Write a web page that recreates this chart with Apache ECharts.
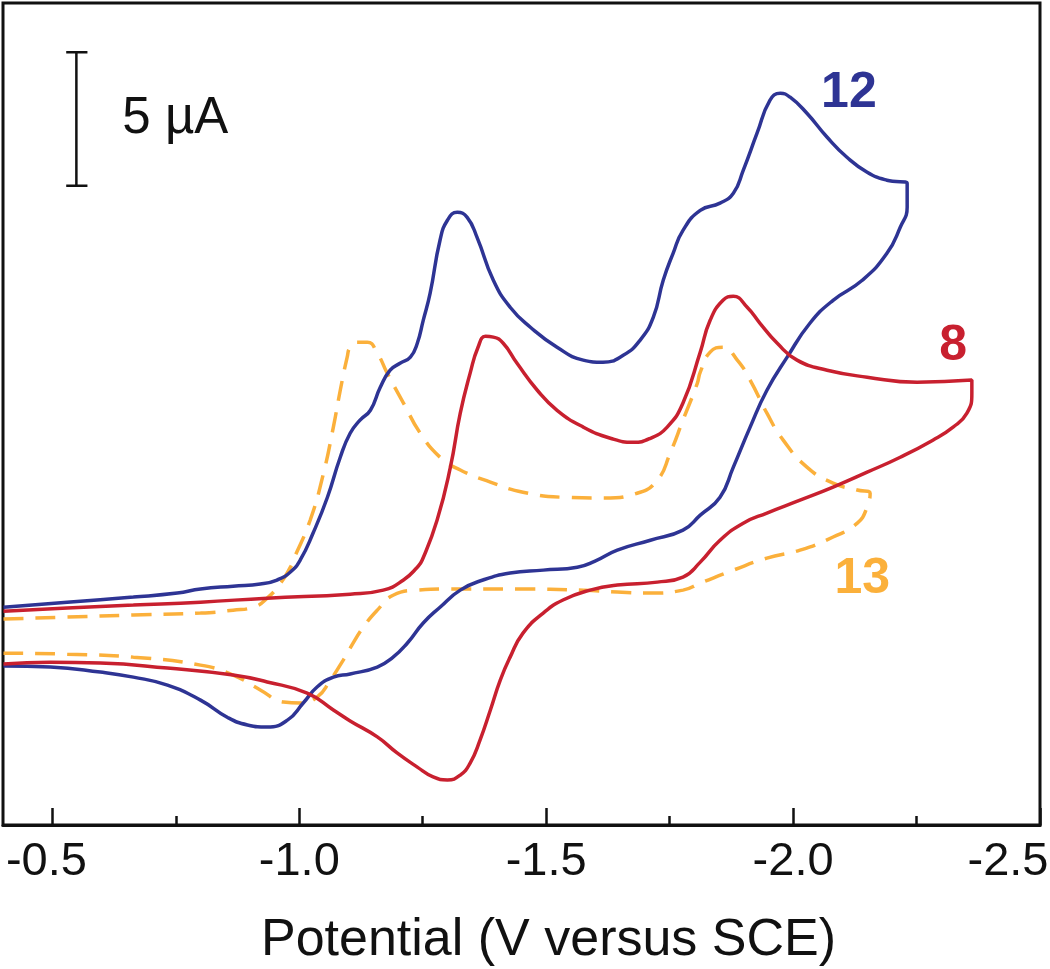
<!DOCTYPE html>
<html>
<head>
<meta charset="utf-8">
<script src="https://cdn.jsdelivr.net/npm/echarts@6/dist/echarts.min.js"></script>
<style>
html,body{margin:0;padding:0;background:#fff;}
#chart{width:1050px;height:969px;}
</style>
</head>
<body>
<div id="chart"></div>
<script>
// ---- Data (potential in V vs SCE, current in µA with arbitrary offset) ----
const majorTicks = [-2.5, -2.0, -1.5, -1.0, -0.5];
const minorTicks = [-2.25, -1.75, -1.25, -0.75];
const axisTitle = 'Potential (V versus SCE)';

const curve12 = [
  [-0.401,8.16],[-0.530,8.35],[-0.664,8.54],[-0.753,8.69],[-0.800,8.84],[-0.866,8.95],[-0.921,9.03],
  [-0.955,9.18],[-0.982,9.48],[-1.002,9.93],[-1.028,10.94],[-1.057,12.28],[-1.083,13.78],[-1.103,14.68],
  [-1.123,15.17],[-1.144,15.54],[-1.164,16.40],[-1.184,17.04],[-1.204,17.30],[-1.225,17.53],[-1.239,18.05],
  [-1.251,18.91],[-1.265,19.93],[-1.285,21.91],[-1.300,22.66],[-1.320,22.96],[-1.340,22.77],[-1.360,22.02],
  [-1.393,20.41],[-1.427,19.40],[-1.468,18.65],[-1.522,17.90],[-1.575,17.42],[-1.615,17.34],[-1.656,17.60],
  [-1.690,18.16],[-1.717,19.03],[-1.737,20.41],[-1.757,21.42],[-1.777,22.28],[-1.812,23.03],[-1.852,23.30],
  [-1.879,23.67],[-1.899,24.53],[-1.927,25.92],[-1.953,27.15],[-1.974,27.42],[-1.994,27.27],[-2.028,26.67],
  [-2.069,25.77],[-2.109,25.02],[-2.150,24.46],[-2.190,24.16],[-2.231,24.04],
  [-2.231,23.15],[-2.217,22.40],[-2.190,21.42],[-2.140,20.41],[-2.081,19.66],[-2.034,18.80],[-1.988,17.53],
  [-1.947,16.29],[-1.913,14.91],[-1.879,13.41],[-1.852,12.28],[-1.812,11.61],[-1.777,11.05],[-1.711,10.67],
  [-1.644,10.30],[-1.599,9.89],[-1.563,9.66],[-1.494,9.55],[-1.427,9.44],[-1.372,9.18],[-1.326,8.80],
  [-1.285,8.16],[-1.251,7.57],[-1.219,6.82],[-1.190,6.29],[-1.158,5.92],[-1.103,5.66],[-1.069,5.54],
  [-1.036,5.17],[-1.008,4.57],[-0.976,3.93],[-0.935,3.67],[-0.895,3.75],[-0.854,4.04],[-0.800,4.68],
  [-0.733,5.24],[-0.664,5.54],[-0.597,5.73],[-0.496,5.92],[-0.401,5.96]
];

const curve8 = [
  [-0.401,8.01],[-0.530,8.13],[-0.664,8.24],[-0.800,8.35],[-0.935,8.50],[-1.103,8.65],[-1.170,8.80],
  [-1.211,9.18],[-1.239,9.66],[-1.249,9.93],[-1.279,11.42],[-1.306,13.41],[-1.326,15.43],[-1.346,16.93],
  [-1.362,17.90],[-1.377,18.31],[-1.393,18.28],[-1.413,18.05],[-1.441,17.30],[-1.482,16.29],[-1.522,15.54],
  [-1.575,14.91],[-1.630,14.49],[-1.676,14.34],[-1.711,14.49],[-1.745,14.91],[-1.777,15.81],[-1.812,17.72],
  [-1.832,18.91],[-1.858,19.66],[-1.879,19.81],[-1.907,19.40],[-1.933,18.80],[-1.968,18.05],[-2.008,17.42],
  [-2.069,17.04],[-2.150,16.78],[-2.251,16.59],[-2.362,16.67],
  [-2.362,16.18],[-2.352,15.43],[-2.324,14.91],[-2.283,14.42],[-2.217,13.78],[-2.150,13.22],[-2.081,12.66],
  [-2.014,12.17],[-1.947,11.69],[-1.899,11.31],[-1.852,10.67],[-1.812,9.85],[-1.777,9.29],[-1.725,9.10],
  [-1.644,8.99],[-1.589,8.80],[-1.534,8.43],[-1.494,7.94],[-1.453,7.19],[-1.427,6.29],[-1.407,5.43],
  [-1.387,4.31],[-1.366,3.18],[-1.346,2.32],[-1.326,1.87],[-1.300,1.69],[-1.271,1.80],[-1.239,2.17],
  [-1.198,2.70],[-1.158,3.30],[-1.103,3.90],[-1.069,4.31],[-1.016,4.94],[-0.935,5.36],[-0.866,5.62],
  [-0.733,5.88],[-0.597,6.07],[-0.496,6.10],[-0.401,6.03]
];

const curve13 = [
  [-0.401,7.72],[-0.530,7.79],[-0.664,7.87],[-0.800,7.94],[-0.866,8.05],[-0.907,8.16],[-0.935,8.50],
  [-0.962,9.06],[-0.982,9.66],[-0.988,9.93],[-1.022,11.42],[-1.049,13.18],[-1.069,14.91],[-1.083,16.29],
  [-1.097,17.53],[-1.103,17.90],[-1.117,18.09],[-1.138,18.09],[-1.158,17.68],[-1.178,16.93],[-1.211,15.81],
  [-1.245,14.68],[-1.285,13.78],[-1.326,13.30],[-1.387,12.85],[-1.453,12.47],[-1.534,12.28],[-1.615,12.25],
  [-1.684,12.43],[-1.725,12.92],[-1.751,13.93],[-1.777,15.17],[-1.806,16.55],[-1.812,16.97],[-1.832,17.72],
  [-1.858,17.90],[-1.887,17.42],[-1.913,16.67],[-1.947,15.43],[-1.980,14.42],[-2.028,13.41],[-2.081,12.81],
  [-2.130,12.55],[-2.156,12.43],
  [-2.150,11.91],[-2.130,11.31],[-2.081,10.79],[-2.014,10.30],[-1.947,10.00],[-1.879,9.55],[-1.812,9.06],
  [-1.777,8.80],[-1.711,8.69],[-1.644,8.73],[-1.575,8.80],[-1.441,8.84],[-1.306,8.84],[-1.239,8.80],
  [-1.190,8.61],[-1.158,8.05],[-1.130,7.42],[-1.103,6.63],[-1.089,6.18],[-1.063,5.43],[-1.036,4.79],
  [-1.002,4.57],[-0.968,4.61],[-0.921,5.06],[-0.866,5.62],[-0.800,5.99],[-0.664,6.29],[-0.530,6.40],
  [-0.401,6.44]
];

// scale bar: 5 µA
const scaleBar = [[-0.528,28.95],[-0.571,28.95],[-0.5486,28.95],[-0.5486,23.95],[-0.528,23.95],[-0.571,23.95]];
const scaleBarText = '5 µA';
const scaleBarTextAt = [-0.749, 26.44];

const curveNames = ['12', '8', '13'];
const curveLabelAt = [[-2.113, 27.42], [-2.324, 17.94], [-2.140, 9.21]];

// ---- Styles ----
const FONT = '"Liberation Sans", Arial, Helvetica, sans-serif';
const BLUE = '#2e3494';
const RED = '#c8202f';
const ORANGE = '#fbb03b';
const labelColors = [BLUE, RED, ORANGE];
const INK = '#111111';

const chart = echarts.init(document.getElementById('chart'), null, {renderer: 'canvas'});

const textItems = curveNames.map((n, i) => ({
  value: curveLabelAt[i],
  label: {show: true, formatter: n, color: labelColors[i], fontSize: 50, fontWeight: 'bold',
          position: 'inside', fontFamily: FONT, opacity: 1}
}));
textItems.push({
  value: scaleBarTextAt,
  label: {show: true, formatter: scaleBarText, color: INK, fontSize: 51, fontWeight: 'normal',
          position: 'inside', fontFamily: FONT, opacity: 1}
});

const tickFont = {fontSize: 47, color: INK, fontFamily: FONT};

const option = {
  animation: false,
  backgroundColor: '#fff',
  grid: {left: 3, right: 10, top: 3, bottom: 144, show: true, borderColor: INK, borderWidth: 3,
         backgroundColor: 'transparent', containLabel: false, outerBoundsMode: 'none'},
  xAxis: [{
    type: 'value', min: -2.5, max: -0.4, inverse: true, position: 'bottom',
    axisLine: {show: true, onZero: false, lineStyle: {color: INK, width: 3}},
    axisTick: {show: true, inside: true, length: 17, lineStyle: {color: INK, width: 2.5}, customValues: majorTicks},
    axisLabel: Object.assign({show: true, customValues: majorTicks, margin: 14, hideOverlap: false,
                formatter: v => {
                  const s = Number(v).toFixed(1);
                  if (v <= -2.49) return '{r|' + s + '}';
                  if (v >= -0.51) return '{l|' + s + '}';
                  return s;
                },
                rich: {
                  r: Object.assign({padding: [0, 64, 0, 0]}, tickFont),
                  l: Object.assign({padding: [0, 12, 0, 0]}, tickFont)
                }}, tickFont),
    splitLine: {show: false},
    name: axisTitle, nameLocation: 'middle', nameGap: 90,
    nameTextStyle: {fontSize: 52, color: INK, fontFamily: FONT, padding: [0, 0, 0, 54]}
  }, {
    type: 'value', min: -2.5, max: -0.4, inverse: true, position: 'bottom',
    axisLine: {show: false, onZero: false},
    axisTick: {show: true, inside: true, length: 9, lineStyle: {color: INK, width: 2.5}, customValues: minorTicks},
    axisLabel: {show: false},
    splitLine: {show: false}
  }],
  yAxis: {type: 'value', min: 0, max: 30.8, show: false, splitLine: {show: false}},
  series: [
    {name: '12', type: 'line', data: curve12, xAxisIndex: 0, showSymbol: false, symbol: 'none', smooth: 0.5,
     lineStyle: {color: BLUE, width: 3.5}, z: 3},
    {name: '8', type: 'line', data: curve8, xAxisIndex: 0, showSymbol: false, symbol: 'none', smooth: 0.5,
     lineStyle: {color: RED, width: 3.5}, z: 4},
    {name: '13', type: 'line', data: curve13, xAxisIndex: 0, showSymbol: false, symbol: 'none', smooth: 0.5,
     lineStyle: {color: ORANGE, width: 3.5, type: [20, 12]}, z: 2},
    {name: 'scale', type: 'line', data: scaleBar, xAxisIndex: 0, showSymbol: false, symbol: 'none',
     lineStyle: {color: INK, width: 2.5}, z: 5},
    {name: 'labels', type: 'scatter', data: textItems, xAxisIndex: 0, symbolSize: 1,
     itemStyle: {color: 'transparent', opacity: 1}, z: 6, silent: true}
  ]
};
chart.setOption(option);
</script>
</body>
</html>
